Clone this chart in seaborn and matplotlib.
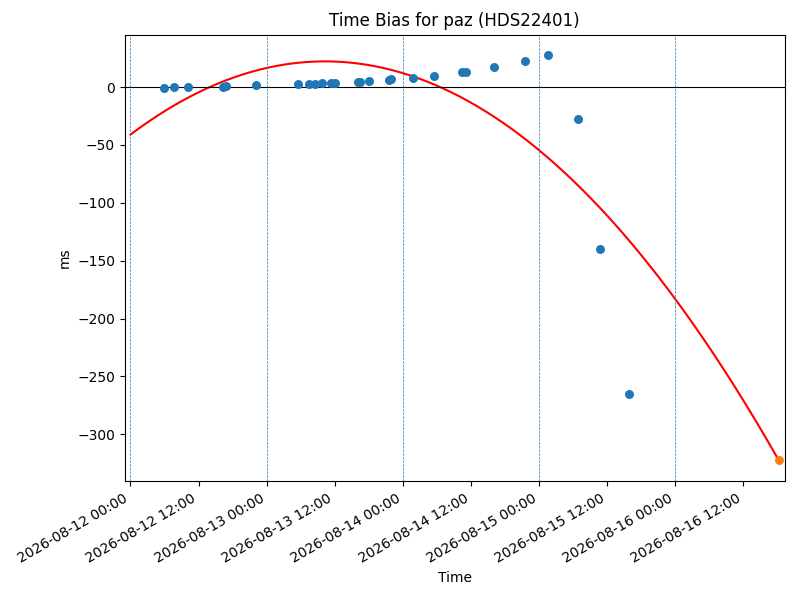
import matplotlib
matplotlib.use("Agg")
from matplotlib import pyplot as plt
import matplotlib.dates as mdates
import numpy as np
import pandas as pd
import seaborn as sns

# Time bias samples (hours after 2026-08-12 00:00, bias in ms)
start = pd.Timestamp("2026-08-12 00:00")
bias_hours = [6.0, 7.6, 10.1, 16.4, 16.8, 22.2, 29.6, 31.5, 32.5, 33.8, 35.4,
              36.1, 40.1, 40.5, 42.1, 45.6, 46.0, 49.8, 53.5, 58.5, 59.2,
              64.1, 69.6, 73.6, 78.9, 82.8, 87.9]
bias_ms = [-1.1, -0.3, -0.3, 0.3, 0.5, 1.7, 2.6, 2.6, 2.6, 3.5, 3.5,
           3.5, 4.0, 4.6, 5.5, 6.3, 6.9, 7.8, 9.5, 12.7, 12.7,
           17.0, 22.2, 27.6, -27.8, -140.0, -265.5]

# Predicted point at the end of the fit
pred_hours = [114.4]
pred_ms = [-322.5]

# Readings along the red fit curve (used to rebuild the quadratic)
fit_hours = [0.0, 13.9, 34.1, 54.2, 72.2, 82.8, 96.0, 113.9]
fit_ms = [-41.0, 0.0, 21.9, 0.0, -55.0, -103.0, -183.0, -319.0]

df = pd.DataFrame({"time": start + pd.to_timedelta(bias_hours, unit="h"),
                   "bias": bias_ms})
df_pred = pd.DataFrame({"time": start + pd.to_timedelta(pred_hours, unit="h"),
                        "bias": pred_ms})

coef = np.polyfit(fit_hours, fit_ms, 2)
curve_h = np.linspace(fit_hours[0], pred_hours[-1], 300)
df_fit = pd.DataFrame({"time": start + pd.to_timedelta(curve_h, unit="h"),
                       "bias": np.polyval(coef, curve_h)})

fig, ax = plt.subplots(figsize=(8, 6), dpi=100)

sns.lineplot(data=df_fit, x="time", y="bias", color="red", linewidth=1.5, ax=ax)
sns.scatterplot(data=df, x="time", y="bias", color="C0", s=42, linewidth=0,
                ax=ax, zorder=3)
sns.scatterplot(data=df_pred, x="time", y="bias", color="C1", s=42,
                linewidth=0, ax=ax, zorder=3)

ax.axhline(0, color="black", linewidth=0.8)
for day in pd.date_range("2026-08-12", "2026-08-16", freq="D"):
    ax.axvline(day, color="C0", linestyle="--", linewidth=0.5)

ax.set_xlim(start - pd.Timedelta(hours=1),
            start + pd.Timedelta(hours=pred_hours[-1] + 1))
ax.xaxis.set_major_locator(mdates.HourLocator(byhour=[0, 12]))
ax.xaxis.set_major_formatter(mdates.DateFormatter("%Y-%m-%d %H:%M"))
plt.setp(ax.get_xticklabels(), rotation=30, ha="right")

ax.set_title("Time Bias for paz (HDS22401)")
ax.set_xlabel("Time")
ax.set_ylabel("ms")

fig.subplots_adjust(left=0.156, right=0.981, top=0.942, bottom=0.198)
fig.savefig("out.png")
